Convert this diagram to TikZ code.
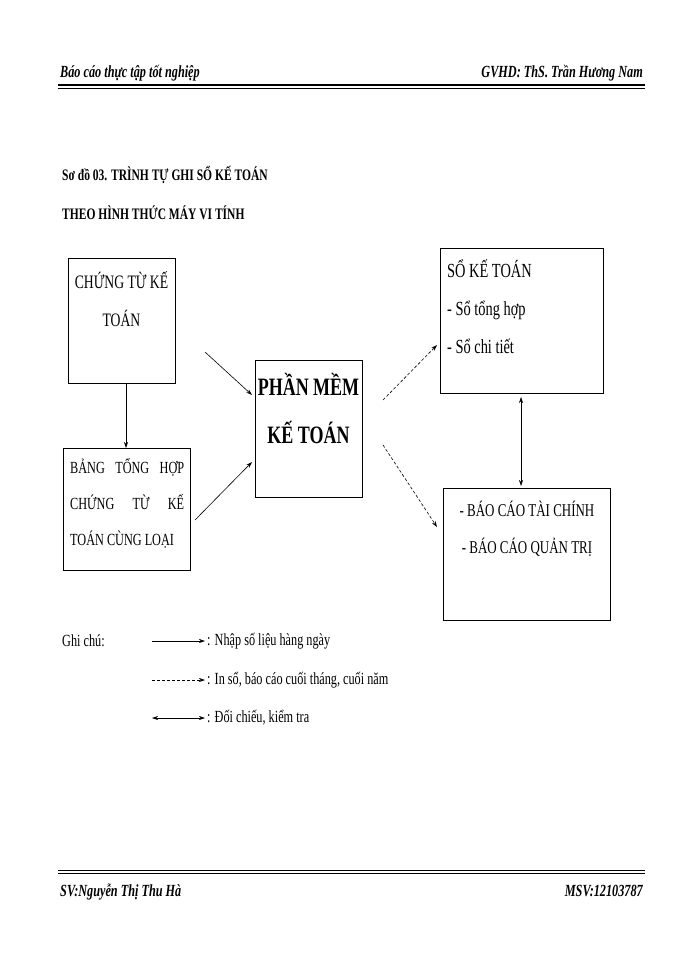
\documentclass[tikz,border=0pt]{standalone}
\usepackage{fontspec}
\setmainfont[FakeStretch=0.72]{Liberation Serif}
\usetikzlibrary{arrows.meta}
\begin{document}
\begin{tikzpicture}[x=1pt,y=-1pt,
  box/.style={draw,line width=0.9pt},
  txt/.style={inner sep=0pt,font=\fontsize{20}{38}\selectfont},
  conn/.style={-{Stealth[length=6pt,width=4pt]},line width=0.6pt},
  dconn/.style={conn,dash pattern=on 3pt off 2pt},
  lg/.style={anchor=west,inner sep=0pt,font=\fontsize{17}{19}\selectfont}]
\useasboundingbox (0,0) rectangle (700,960);
% header
\node[anchor=base west,inner sep=0pt,font=\bfseries\itshape\fontsize{17}{19}\selectfont] (h1) at (60,78) {Báo cáo thực tập tốt nghiệp};
\node[anchor=base east,inner sep=0pt,font=\bfseries\itshape\fontsize{17}{19}\selectfont] (h2) at (643,78) {GVHD: ThS. Trần Hương Nam};
\draw[line width=1.6pt] (58,85) -- (645,85);
\draw[line width=0.5pt] (58,88.5) -- (645,88.5);
% footer
\draw[line width=0.5pt] (58,870) -- (645,870);
\draw[line width=1.6pt] (58,873.5) -- (645,873.5);
\node[anchor=base west,inner sep=0pt,font=\bfseries\itshape\fontsize{17}{19}\selectfont] (f1) at (60,896) {SV:Nguyễn Thị Thu Hà};
\node[anchor=base east,inner sep=0pt,font=\bfseries\itshape\fontsize{17}{19}\selectfont] (f2) at (643,896) {MSV:12103787};
% title
\node[anchor=base west,inner sep=0pt,font=\bfseries\fontsize{16}{18}\selectfont] (t1) at (62,181) {Sơ đồ 03. TRÌNH TỰ GHI SỔ KẾ TOÁN};
\node[anchor=base west,inner sep=0pt,font=\bfseries\fontsize{16}{18}\selectfont] (t2) at (62,219) {THEO HÌNH THỨC MÁY VI TÍNH};
% boxes
\draw[box] (68,258) rectangle (175,383);
\node[txt,align=center,font=\fontsize{19}{38}\selectfont] (A) at (121.5,299) {CHỨNG TỪ KẾ\\TOÁN};
\coordinate (Ab) at (126,383);
\draw[box] (63,448) rectangle (190,570);
\node[txt,anchor=north west,align=left,font=\fontsize{17}{36}\selectfont] (B) at (70,458) {\makebox[114pt][s]{BẢNG\hfill TỔNG\hfill HỢP}\\\makebox[114pt][s]{CHỨNG\hfill TỪ\hfill KẾ}\\TOÁN CÙNG LOẠI};
\coordinate (Bt) at (126,448);
\draw[box] (255,360) rectangle (362,497);
\node[txt,align=center,font=\bfseries\fontsize{25}{48}\selectfont] (C) at (308.5,408) {PHẦN MỀM\\KẾ TOÁN};
\draw[box] (440,248) rectangle (603,393);
\node[txt,anchor=north west,align=left] (D) at (447,260) {SỔ KẾ TOÁN\\- Sổ tổng hợp\\- Sổ chi tiết};
\draw[box] (443,488) rectangle (610,620);
\node[txt,align=center,font=\fontsize{18}{37}\selectfont] (E) at (527,529) {- BÁO CÁO TÀI CHÍNH\\- BÁO CÁO QUẢN TRỊ};
% connectors
\coordinate (a1) at (205,352); \coordinate (c1) at (252,395);
\coordinate (b1) at (195,520); \coordinate (c2) at (252,462);
\coordinate (c3) at (383,400); \coordinate (d1) at (437,345);
\coordinate (c4) at (383,445); \coordinate (e1) at (437,527);
\coordinate (d2) at (521,397); \coordinate (e2) at (521,486);
\draw[conn] (a1) -- (c1);
\draw[conn] (b1) -- (c2);
\draw[conn] (Ab) -- (Bt);
\draw[dconn] (c3) -- (d1);
\draw[dconn] (c4) -- (e1);
\draw[conn,{Stealth[length=6pt,width=4pt]}-{Stealth[length=6pt,width=4pt]}] (d2) -- (e2);
% legend
\node[lg] (g) at (62,641) {Ghi chú:};
\coordinate (l1a) at (152,641); \coordinate (l1b) at (205,641);
\coordinate (l2a) at (152,680); \coordinate (l2b) at (205,680);
\coordinate (l3a) at (152,718); \coordinate (l3b) at (205,718);
\draw[conn] (l1a) -- (l1b);
\draw[dconn] (l2a) -- (l2b);
\draw[conn,{Stealth[length=6pt,width=4pt]}-{Stealth[length=6pt,width=4pt]}] (l3a) -- (l3b);
\node[lg] (n1) at (207,641) {: Nhập số liệu hàng ngày};
\node[lg] (n2) at (207,680) {: In sổ, báo cáo cuối tháng, cuối năm};
\node[lg] (n3) at (207,718) {: Đối chiếu, kiểm tra};
\end{tikzpicture}
\end{document}
